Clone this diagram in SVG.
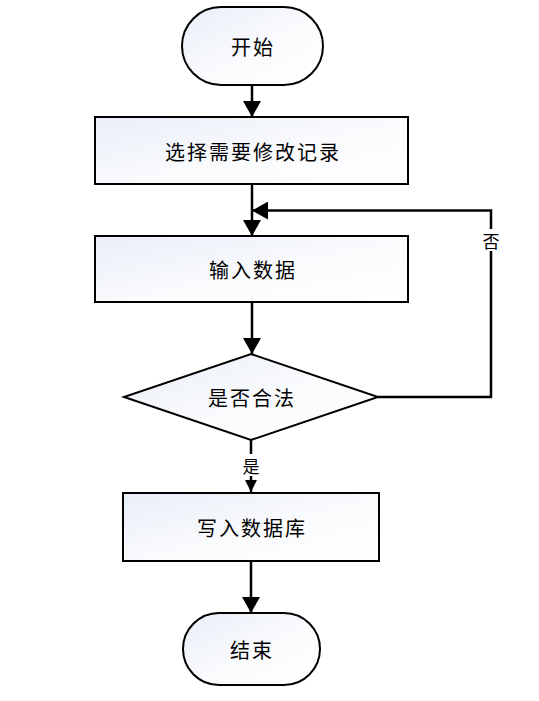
<svg xmlns="http://www.w3.org/2000/svg" width="539" height="701" viewBox="0 0 539 701">
<defs>
<linearGradient id="g" x1="0" y1="0" x2="1" y2="1">
<stop offset="0" stop-color="#e9eef8"/>
<stop offset="0.55" stop-color="#fafbfd"/>
<stop offset="1" stop-color="#ffffff"/>
</linearGradient>
<marker id="ah" viewBox="0 0 16 18" markerWidth="16" markerHeight="18" refX="16" refY="9" orient="auto" markerUnits="userSpaceOnUse">
<path d="M0,0 L16,9 L0,18 Z" fill="#000"/>
</marker>
<marker id="ahs" viewBox="0 0 12 12" markerWidth="12" markerHeight="12" refX="12" refY="6" orient="auto" markerUnits="userSpaceOnUse">
<path d="M0,0 L12,6 L0,12 Z" fill="#000"/>
</marker>
</defs>
<style>
.s{fill:url(#g);stroke:#000;stroke-width:2}
.t{font-family:"Noto Sans CJK SC","Noto Sans",sans-serif;font-size:20px;letter-spacing:2px;fill:#000;text-anchor:middle;dominant-baseline:central}
.c{fill:none;stroke:#000;stroke-width:2.5}
.l{font-family:"Noto Sans CJK SC","Noto Sans",sans-serif;font-size:17px;fill:#000;text-anchor:middle;dominant-baseline:central}
</style>
<rect width="539" height="701" fill="#fff"/>
<g id="connectors">
<path class="c" d="M252,85 V117" marker-end="url(#ah)"/>
<path class="c" d="M252,184 V236" marker-end="url(#ah)"/>
<path class="c" d="M252,302 V354" marker-end="url(#ah)"/>
<path class="c" d="M378,397 H491 V210.5 H252" marker-end="url(#ah)"/>
<path class="c" d="M251,440 V492" marker-end="url(#ahs)"/>
<path class="c" d="M251,561 V613" marker-end="url(#ah)"/>
<rect x="481" y="229" width="20" height="22" fill="#fff"/>
<text class="l" x="491" y="240">否</text>
<rect x="241" y="454" width="20" height="22" fill="#fff"/>
<text class="l" x="251" y="465">是</text>
</g>
<g id="start">
<rect class="s" x="182" y="7" width="141" height="78" rx="39" ry="39"/>
<text class="t" x="253" y="46">开始</text>
</g>
<g id="select">
<rect class="s" x="95" y="117" width="313" height="67"/>
<text class="t" x="253" y="151">选择需要修改记录</text>
</g>
<g id="input">
<rect class="s" x="95" y="236" width="313" height="66"/>
<text class="t" x="253" y="269">输入数据</text>
</g>
<g id="check">
<polygon class="s" points="251,354 378,397 251,440 124,397"/>
<text class="t" x="252" y="397">是否合法</text>
</g>
<g id="write">
<rect class="s" x="123" y="493" width="256" height="68"/>
<text class="t" x="252" y="527">写入数据库</text>
</g>
<g id="end">
<rect class="s" x="183" y="613" width="137" height="72" rx="36" ry="36"/>
<text class="t" x="252" y="649">结束</text>
</g>
</svg>
